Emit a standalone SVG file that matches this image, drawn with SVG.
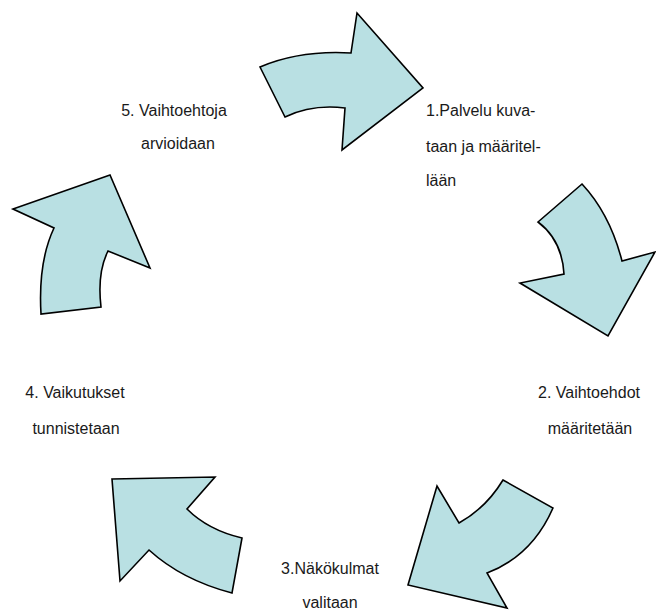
<svg xmlns="http://www.w3.org/2000/svg" width="656" height="610" viewBox="0 0 656 610">
<style>
.arr{fill:#b9e0e3;stroke:#000;stroke-width:1.6;stroke-linejoin:miter}
.t{font-family:"Liberation Sans",Arial,sans-serif;font-size:16px;fill:#1a1a1a}
.m{text-anchor:middle}
</style>
<rect width="656" height="610" fill="#fff"/>
<g id="connectors">
<path id="arrow1" class="arr" d="M260,67 Q300,50 351,53 L357,13 L423,88 L342,150 L345,108 Q312,104 285,117 Z"/>
<path id="arrow2" class="arr" d="M538,222 L582,184 Q610,214 622,261 L655,252 L608,336 L520,283 L564,274 Q562,240 538,222 Z"/>
<path id="arrow3" class="arr" d="M503,480 L553,508 Q532,556 487,573 L507,608 L408,585 L437,486 L459,523 Q486,508 503,480 Z"/>
<path id="arrow4" class="arr" d="M112,479 L215,477 L187,509 Q208,530 242,538 L232,593 Q182,580 149,550 L120,581 Z"/>
<path id="arrow5" class="arr" d="M13,209 L110,175 L150,268 L108,251 Q97,273 101,307 L41,314 Q38,262 54,228 Z"/>
</g>
<g id="node1">
<text class="t" x="426" y="116">1.Palvelu kuva-</text>
<text class="t" x="426" y="152">taan ja määritel-</text>
<text class="t" x="426" y="186">lään</text>
</g>
<g id="node2">
<text class="t m" x="589" y="398">2. Vaihtoehdot</text>
<text class="t m" x="590" y="434">määritetään</text>
</g>
<g id="node3">
<text class="t m" x="330" y="574">3.Näkökulmat</text>
<text class="t m" x="330" y="608">valitaan</text>
</g>
<g id="node4">
<text class="t m" x="75" y="398">4. Vaikutukset</text>
<text class="t m" x="76" y="434">tunnistetaan</text>
</g>
<g id="node5">
<text class="t m" x="174" y="116">5. Vaihtoehtoja</text>
<text class="t m" x="178" y="149">arvioidaan</text>
</g>
</svg>
